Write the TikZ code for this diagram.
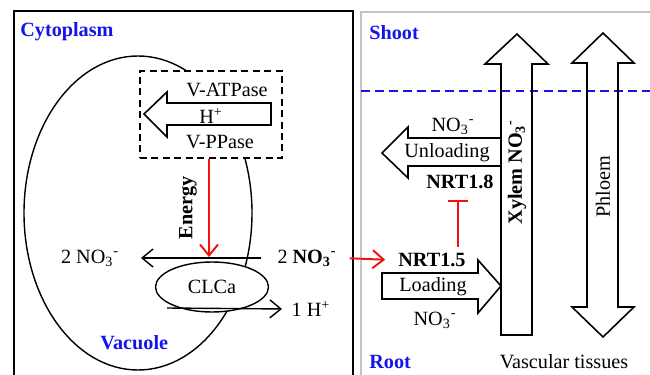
\documentclass[tikz,border=0pt]{standalone}
\usepackage{fontspec}
\setmainfont{Liberation Serif}[BoldFont={Liberation Serif Bold}]
\definecolor{LabelBlue}{RGB}{20,20,235}
\definecolor{SignalRed}{RGB}{245,15,15}
\definecolor{FrameGray}{RGB}{195,195,195}
\usetikzlibrary{arrows.meta,shapes.geometric}
\newcommand{\nitrate}{NO\textsubscript{3}\textsuperscript{-}}

\begin{document}
\begin{tikzpicture}[x=0.02cm,y=-0.02cm,font=\fontsize{11.5}{13.8}\selectfont,
  region/.style={font=\fontsize{11.5}{13.8}\selectfont\bfseries,text=LabelBlue,anchor=west,inner sep=0pt},
  boldlabel/.style={font=\fontsize{11.5}{13.8}\selectfont\bfseries},
  thinarrow/.style={line width=0.8pt,-{Straight Barb[length=2.2mm,width=3.6mm]}},
  redarrow/.style={SignalRed,line width=1.1pt,-{Straight Barb[length=2.2mm,width=3.6mm]}},
  blockarrow/.style={line width=0.9pt,line join=miter}]

  \useasboundingbox (0,0) rectangle (650,375);
  \draw[line width=0.7pt] (14,375) -- (14,11) -- (353,11) -- (353,375);
  \draw[FrameGray,line width=0.7pt] (361,375) -- (361,12) -- (650,12);
  \draw[LabelBlue,dash pattern=on 5pt off 3pt,line width=0.7pt] (361,91) -- (650,91);

  % cell side
  \node[region] (cyto) at (20,32) {Cytoplasm};
  \node[region] (vac) at (100,343) {Vacuole};
  \draw[line width=0.8pt] (138,213) ellipse [x radius=114, y radius=157];
  \node[draw,dash pattern=on 4pt off 2.5pt,fill=white,line width=0.8pt,minimum width=2.84cm,minimum height=1.74cm] (pump) at (211,114.5) {};
  \draw[blockarrow] (271,103) -- (167,103) -- (167,92) -- (144,114) -- (167,137) -- (167,125) -- (271,125) -- cycle;
  \node (atp) at (227,90) {V-ATPase};
  \node (hplus) at (211,116) {H\textsuperscript{+}};
  \node (ppase) at (220,142) {V-PPase};
  \node[draw,ellipse,fill=white,line width=0.8pt,minimum width=2.26cm,minimum height=1.0cm,inner sep=0pt] (clca) at (212,287) {CLCa};
  \node[boldlabel,rotate=90] (energy) at (188,208) {Energy};
  \node (no3out) at (90,258) {2 \nitrate};
  \node (no3in) at (307,258) {2 \textbf{\nitrate}};
  \node (hout) at (311,309) {1 H\textsuperscript{+}};
  \coordinate (etip) at (209,257);
  \coordinate (hstart) at (167,308);
  \draw[redarrow] (pump.south -| etip) -- (etip);
  \draw[thinarrow,shorten >=9pt] ([xshift=-0.2cm]no3in.west) -- (no3out.east);
  \draw[thinarrow,shorten >=2pt] (hstart) -- (hout.west);

  % plant side
  \node[region] (shoot) at (369,33) {Shoot};
  \node[region] (root) at (369,362) {Root};
  \node (vasc) at (564,362) {Vascular tissues};
  \draw[blockarrow] (501,335) -- (501,64) -- (485,64) -- (517,34) -- (548,64) -- (532,64) -- (532,335) -- cycle;
  \draw[blockarrow] (587,307) -- (587,63) -- (572,63) -- (603,33) -- (634,63) -- (618,63) -- (618,307) -- (634,307) -- (603,337) -- (572,307) -- cycle;
  \draw[blockarrow] (501,138) -- (408,138) -- (408,127) -- (382,153) -- (408,178) -- (408,166) -- (501,166);
  \draw[blockarrow] (382,273) -- (478,273) -- (478,260) -- (501,286) -- (478,313) -- (478,299) -- (382,299) -- cycle;
  \node[boldlabel,rotate=90] (xylem) at (517,172) {Xylem \nitrate};
  \node[rotate=90] (phloem) at (603,187) {Phloem};
  \node (no3up) at (453,126) {\nitrate};
  \node (unl) at (447,153) {Unloading};
  \node[boldlabel] (nrt18) at (460,182) {NRT1.8};
  \node[boldlabel] (nrt15) at (432,260) {NRT1.5};
  \node (load) at (433,287) {Loading};
  \node (no3low) at (435,320) {\nitrate};
  \coordinate (tbar) at (458,200);
  \draw[redarrow,shorten <=4pt,shorten >=4pt] (no3in.east) -- (nrt15.west);
  \draw[SignalRed,line width=1.1pt,-{Bar[width=4mm]}] (nrt15.north -| tbar) -- (tbar);
\end{tikzpicture}
\end{document}
